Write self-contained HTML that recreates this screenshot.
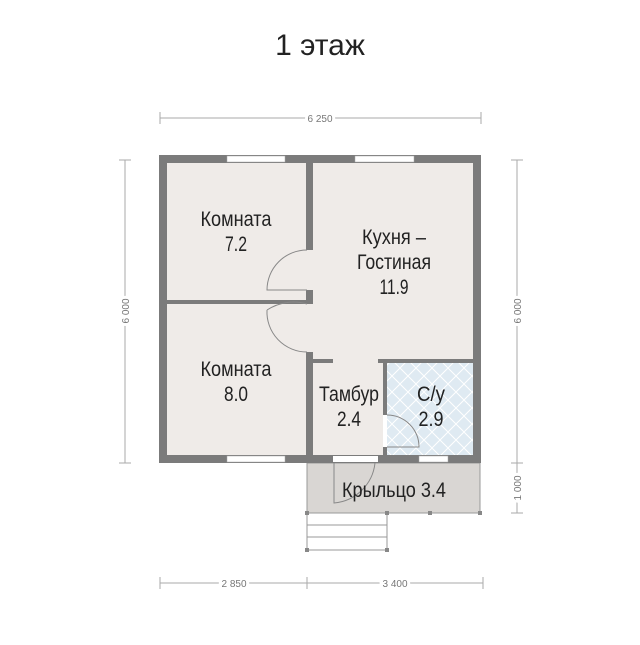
<!DOCTYPE html>
<html><head><meta charset="utf-8"><style>
body{margin:0;background:#fff}
svg text{font-family:"Liberation Sans",sans-serif}
</style></head><body>
<svg width="640" height="640" viewBox="0 0 640 640" xmlns="http://www.w3.org/2000/svg">
<defs>
<pattern id="tile" width="16" height="16" patternUnits="userSpaceOnUse">
<rect width="16" height="16" fill="#dfeaf2"/>
<path d="M0 0L16 16M16 0L0 16" stroke="#fff" stroke-width="1"/>
</pattern>
</defs>
<text x="320" y="55" font-size="30" text-anchor="middle" fill="#222">1 этаж</text>
<rect x="159" y="155" width="322" height="308" fill="#efebe8"/>
<rect x="387" y="363" width="86" height="92" fill="url(#tile)"/>
<rect x="307" y="463" width="173" height="50" fill="#d9d6d3" stroke="#999" stroke-width="1"/>
<g stroke="#999" stroke-width="1" fill="none">
<path d="M307 513V550M387 513V550M307 525H387M307 537H387M307 550H387"/>
</g>
<g fill="#888"><rect x="305" y="511" width="4" height="4"/><rect x="385" y="511" width="4" height="4"/><rect x="428" y="511" width="4" height="4"/><rect x="478" y="511" width="4" height="4"/><rect x="305" y="548" width="4" height="4"/><rect x="385" y="548" width="4" height="4"/></g>
<g fill="#7b7b7b">
<rect x="159" y="155" width="322" height="8"/>
<rect x="159" y="455" width="322" height="8"/>
<rect x="159" y="155" width="8" height="308"/>
<rect x="473" y="155" width="8" height="308"/>
<rect x="306" y="155" width="7" height="95"/>
<rect x="306" y="290" width="7" height="14"/>
<rect x="306" y="352" width="7" height="111"/>
<rect x="167" y="300" width="139" height="4"/>
<rect x="313" y="359" width="20" height="4"/>
<rect x="378" y="359" width="95" height="4"/>
<rect x="383" y="359" width="4" height="96"/>
</g>
<g fill="#fff" stroke="#aaa" stroke-width="0.5">
<rect x="227" y="156" width="58" height="6"/><rect x="355" y="156" width="59" height="6"/>
<rect x="227" y="456" width="58" height="6"/><rect x="419" y="456" width="29" height="6"/>
<rect x="333" y="456" width="45" height="6" stroke="none"/>
<rect x="383" y="415" width="4" height="32" stroke="none"/>
</g>
<g stroke="#888" stroke-width="1" fill="none">
<path d="M307 250A40 40 0 0 0 267 290H307"/>
<path d="M307 304A48 48 0 0 0 267 310"/>
<path d="M267 310A40 40 0 0 0 307 352"/>
<path d="M387 415A32 32 0 0 1 419 447H387"/>
<path d="M334 463V503A45 45 0 0 0 375 463"/>
</g>
<g font-size="21" text-anchor="middle" fill="#222" lengthAdjust="spacingAndGlyphs">
<text x="236" y="226" textLength="71" lengthAdjust="spacingAndGlyphs">Комната</text><text x="236" y="251" textLength="22" lengthAdjust="spacingAndGlyphs">7.2</text>
<text x="394" y="244" textLength="64" lengthAdjust="spacingAndGlyphs">Кухня –</text><text x="394" y="269" textLength="74" lengthAdjust="spacingAndGlyphs">Гостиная</text><text x="394" y="294" textLength="29" lengthAdjust="spacingAndGlyphs">11.9</text>
<text x="236" y="376" textLength="71" lengthAdjust="spacingAndGlyphs">Комната</text><text x="236" y="401" textLength="24" lengthAdjust="spacingAndGlyphs">8.0</text>
<text x="349" y="401" textLength="60" lengthAdjust="spacingAndGlyphs">Тамбур</text><text x="349" y="426" textLength="24" lengthAdjust="spacingAndGlyphs">2.4</text>
<text x="431" y="401" textLength="28" lengthAdjust="spacingAndGlyphs">С/у</text><text x="431" y="426" textLength="25" lengthAdjust="spacingAndGlyphs">2.9</text>
<text x="394" y="497" textLength="104" lengthAdjust="spacingAndGlyphs">Крыльцо 3.4</text>
</g>
<g stroke="#aaa" stroke-width="1">
<path d="M160 118H481M160 112V124M481 112V124"/>
<path d="M125 160V463M119 160H131M119 463H131"/>
<path d="M517 160V513M511 160H523M511 463H523M511 513H523"/>
<path d="M160 583H483M160 577V589M307 577V589M483 577V589"/>
</g>
<g font-size="10" fill="#777" text-anchor="middle">
<text x="320" y="122" stroke="#fff" stroke-width="6" paint-order="stroke">6 250</text>
<text x="234" y="587" stroke="#fff" stroke-width="6" paint-order="stroke">2 850</text>
<text x="395" y="587" stroke="#fff" stroke-width="6" paint-order="stroke">3 400</text>
<text transform="translate(129,311) rotate(-90)" stroke="#fff" stroke-width="6" paint-order="stroke">6 000</text>
<text transform="translate(521,311) rotate(-90)" stroke="#fff" stroke-width="6" paint-order="stroke">6 000</text>
<text transform="translate(521,488) rotate(-90)" stroke="#fff" stroke-width="6" paint-order="stroke">1 000</text>
</g>
</svg>
</body></html>
